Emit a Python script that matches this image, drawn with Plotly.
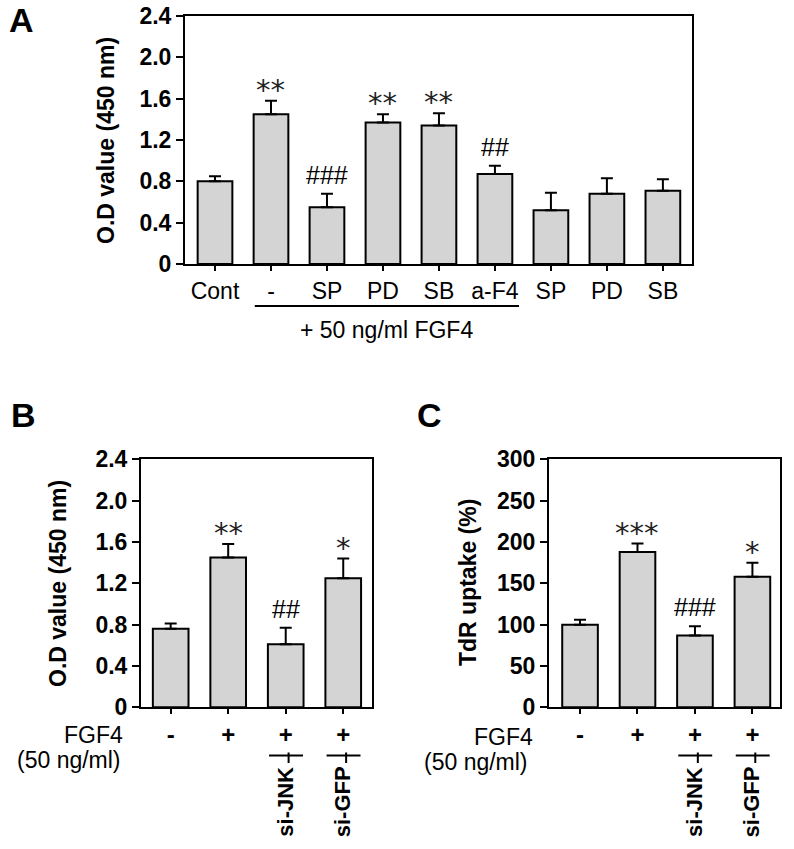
import plotly.graph_objects as go

W, H = 794, 849

# ---------------- data ----------------
a_labels = ["Cont", "-", "SP", "PD", "SB", "a-F4", "SP", "PD", "SB"]
a_values = [0.80, 1.45, 0.55, 1.37, 1.34, 0.87, 0.52, 0.68, 0.71]
a_errors = [0.05, 0.13, 0.13, 0.08, 0.12, 0.08, 0.17, 0.15, 0.11]
a_marks = ["", "**", "###", "**", "**", "##", "", "", ""]
a_group_label = "+ 50 ng/ml FGF4"
od_ticks = [0, 0.4, 0.8, 1.2, 1.6, 2.0, 2.4]
od_ticktext = ["0", "0.4", "0.8", "1.2", "1.6", "2.0", "2.4"]

bc_labels = ["-", "+", "+", "+"]
bc_si = ["", "", "si-JNK", "si-GFP"]

b_values = [0.76, 1.45, 0.61, 1.25]
b_errors = [0.05, 0.13, 0.16, 0.19]
b_marks = ["", "**", "##", "*"]

c_values = [100, 188, 87, 158]
c_errors = [6, 10, 11, 17]
c_marks = ["", "***", "###", "*"]
tdr_ticks = [0, 50, 100, 150, 200, 250, 300]

# ---------------- helpers ----------------
def px(x):
    return x / W


def py(y):
    return 1 - y / H


FONT = "Liberation Sans"
BAR_FILL = "#d4d4d4"

fig = go.Figure()


def add_bars(values, errors, xa, ya):
    fig.add_trace(go.Bar(
        x=list(range(len(values))), y=values, width=0.62,
        marker=dict(color=BAR_FILL, line=dict(color="black", width=2)),
        error_y=dict(type="data", array=errors, arrayminus=[0] * len(errors),
                     symmetric=False, color="black", thickness=2, width=6),
        xaxis=xa, yaxis=ya, showlegend=False, hoverinfo="skip"))


add_bars(a_values, a_errors, "x", "y")
add_bars(b_values, b_errors, "x2", "y2")
add_bars(c_values, c_errors, "x3", "y3")

axis_common = dict(showline=True, mirror=True, linecolor="black", linewidth=2,
                   ticks="outside", tickcolor="black", tickwidth=2,
                   showgrid=False, zeroline=False, fixedrange=True, automargin=False)

yfont = dict(family=FONT, size=23, color="black", weight="bold")

fig.update_layout(
    template="none",
    width=W, height=H, margin=dict(l=0, r=0, t=0, b=0, pad=0, autoexpand=False),
    paper_bgcolor="white", plot_bgcolor="white", bargap=0,
    font=dict(family=FONT, color="black"),
    xaxis=dict(domain=[px(185), px(692)], anchor="y", range=[-0.536, 8.52],
               tickvals=list(range(len(a_labels))), ticktext=a_labels, ticklen=5,
               tickfont=dict(family=FONT, size=23, color="black"), **axis_common),
    yaxis=dict(domain=[py(264), py(16)], anchor="x", range=[0, 2.4],
               tickvals=od_ticks, ticktext=od_ticktext, ticklen=7,
               tickfont=yfont, **axis_common),
    xaxis2=dict(domain=[px(141), px(372)], anchor="y2", range=[-0.516, 3.5],
                tickvals=list(range(4)), ticktext=bc_labels, ticklen=5,
                tickfont=dict(family=FONT, size=24, color="black", weight="bold"),
                **axis_common),
    yaxis2=dict(domain=[py(707.3), py(459.3)], anchor="x2", range=[0, 2.4],
                tickvals=od_ticks, ticktext=od_ticktext, ticklen=7,
                tickfont=yfont, **axis_common),
    xaxis3=dict(domain=[px(549), px(780)], anchor="y3", range=[-0.54, 3.48],
                tickvals=list(range(4)), ticktext=bc_labels, ticklen=5,
                tickfont=dict(family=FONT, size=24, color="black", weight="bold"),
                **axis_common),
    yaxis3=dict(domain=[py(707.3), py(459.3)], anchor="x3", range=[0, 300],
                tickvals=tdr_ticks, ticktext=[str(t) for t in tdr_ticks], ticklen=7,
                tickfont=yfont, **axis_common),
)

ann = []


def add_marks(values, errors, marks, xref, yref):
    for i, (v, e, m) in enumerate(zip(values, errors, marks)):
        if not m:
            continue
        if "*" in m:
            f = dict(family="DejaVu Sans", size=29, color="#222")
            ys = -8
        else:
            f = dict(family=FONT, size=25, color="black")
            ys = 3
        ann.append(dict(x=i, y=v + e, xref=xref, yref=yref, text=m, showarrow=False,
                        xanchor="center", yanchor="bottom", yshift=ys, font=f))


add_marks(a_values, a_errors, a_marks, "x", "y")
add_marks(b_values, b_errors, b_marks, "x2", "y2")
add_marks(c_values, c_errors, c_marks, "x3", "y3")

# panel letters
for letter, (lx, ly) in zip("ABC", [(21.5, 20), (23.5, 415), (429.5, 415)]):
    ann.append(dict(x=px(lx), y=py(ly), xref="paper", yref="paper", text=letter,
                    showarrow=False, xanchor="center", yanchor="middle",
                    font=dict(family=FONT, size=34, color="black", weight="bold")))

# y titles
for txt, (tx, ty) in zip(["O.D value (450 nm)", "O.D value (450 nm)", "TdR uptake (%)"],
                         [(105.5, 140.5), (57.5, 583.5), (467.5, 582.5)]):
    ann.append(dict(x=px(tx), y=py(ty), xref="paper", yref="paper", text=txt,
                    textangle=-90, showarrow=False, xanchor="center", yanchor="middle",
                    font=dict(family=FONT, size=23, color="black", weight="bold")))

# panel A group label + underline
ann.append(dict(x=3.07, y=py(330), xref="x", yref="paper", text=a_group_label,
                showarrow=False, xanchor="center", yanchor="middle",
                font=dict(family=FONT, size=23, color="black")))
shapes = [dict(type="line", xref="x", yref="paper", x0=0.71, x1=5.43,
               y0=py(306), y1=py(306), line=dict(color="black", width=2))]

# FGF4 row labels for B and C
for (fx, fy), (nx, ny) in [((125, 735), (123, 760)), ((535, 737), (530, 762))]:
    ann.append(dict(x=px(fx), y=py(fy), xref="paper", yref="paper", text="FGF4",
                    showarrow=False, xanchor="right", yanchor="middle",
                    font=dict(family=FONT, size=23, color="black")))
    ann.append(dict(x=px(nx), y=py(ny), xref="paper", yref="paper", text="(50 ng/ml)",
                    showarrow=False, xanchor="right", yanchor="middle",
                    font=dict(family=FONT, size=23, color="black")))

# siRNA rotated labels with bracket marks
for xref in ["x2", "x3"]:
    for i, s in enumerate(bc_si):
        if not s:
            continue
        ann.append(dict(x=i, y=py(802), xref=xref, yref="paper", text=s, xshift=-1,
                        textangle=-90, showarrow=False, xanchor="center", yanchor="middle",
                        font=dict(family=FONT, size=22, color="black", weight="bold")))
        shapes.append(dict(type="line", xref=xref, yref="paper", x0=i - 0.29, x1=i + 0.30,
                           y0=py(755.5), y1=py(755.5), line=dict(color="black", width=2)))
        shapes.append(dict(type="line", xref=xref, yref="paper", x0=i + 0.05, x1=i + 0.05,
                           y0=py(752.5), y1=py(763), line=dict(color="black", width=2)))

fig.update_layout(annotations=ann, shapes=shapes)
fig.write_html("out.html",
               config={"displayModeBar": False, "staticPlot": True},
               post_script="document.body.style.margin='0px';document.body.style.overflow='hidden';")
